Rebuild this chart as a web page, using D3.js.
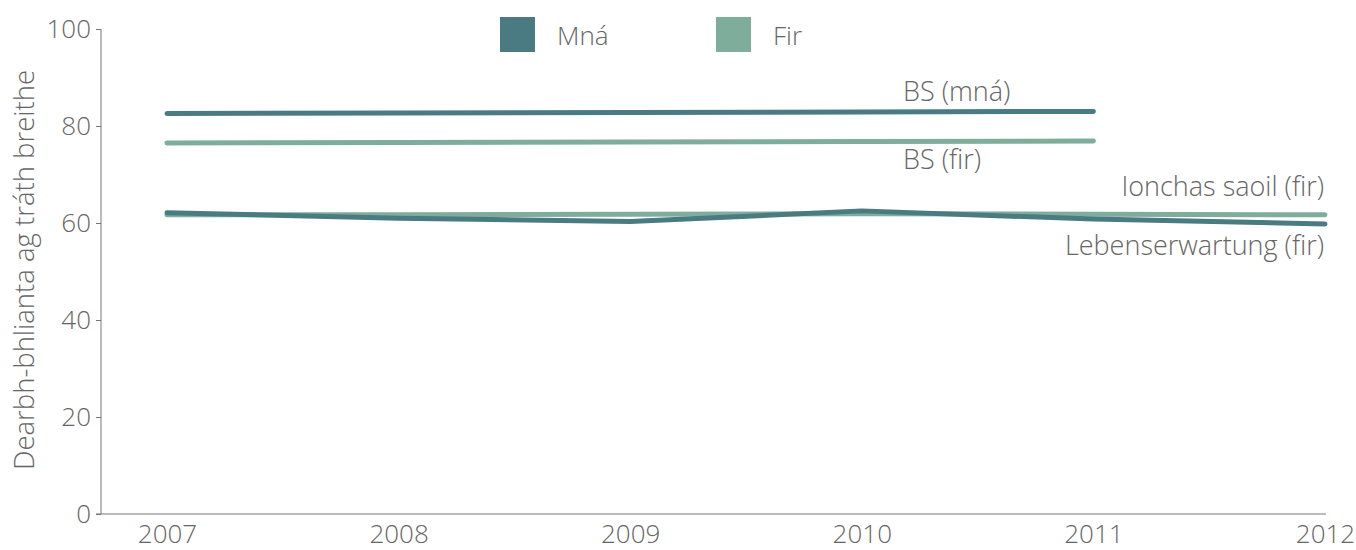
<!DOCTYPE html>
<html>
<head>
<meta charset="utf-8">
<script src="https://cdn.jsdelivr.net/npm/d3@7"></script>
<style>
  body { margin: 0; background: #fff; }
  svg text { font-family: "Open Sans", "Noto Sans", sans-serif; font-weight: 300; fill: #666; }
</style>
</head>
<body>
<div id="viz"></div>
<script>
// data
var years = [2007, 2008, 2009, 2010, 2011, 2012];
var bsWomen = [82.6, 82.7, 82.8, 82.9, 83.0];           // 2007-2011
var bsMen = [76.5, 76.6, 76.7, 76.8, 76.9];             // 2007-2011
var ionchasMen = [61.7, 61.7, 61.8, 61.9, 61.8, 61.7];  // 2007-2012
var lebenMen = [62.1, 61.0, 60.3, 62.5, 60.8, 59.8];    // 2007-2012
var yTicks = [0, 20, 40, 60, 80, 100];
var legendItems = ['Mná', 'Fir'];

var darkColor = '#4a7b83';
var lightColor = '#7fad9c';

var width = 1356, height = 550;

var svg = d3.select('#viz').append('svg')
  .attr('width', width)
  .attr('height', height);

// scales
var x = d3.scaleLinear().domain([2007, 2012]).range([167, 1325]);
var y = d3.scaleLinear().domain([0, 100]).range([514, 29]);

// y axis
var yAxis = svg.append('g')
  .attr('transform', 'translate(101,0)')
  .call(d3.axisLeft(y).tickValues(yTicks).tickSize(5).tickPadding(6));
yAxis.select('.domain').attr('stroke', '#777').attr('d', 'M0,' + y(100) + 'V' + y(0));
yAxis.selectAll('.tick line').attr('stroke', '#777');
yAxis.selectAll('.tick text').style('font-size', '26px').attr('fill', '#666').attr('x', -10).attr('dy', '0.34em');

// x axis (line only, no ticks)
var xAxis = svg.append('g')
  .attr('transform', 'translate(0,' + y(0) + ')')
  .call(d3.axisBottom(x).tickValues(years).tickFormat(d3.format('d')).tickSize(0));
xAxis.select('.domain').attr('stroke', '#777').attr('d', 'M96,0H1326');
xAxis.selectAll('.tick text').style('font-size', '26px').attr('fill', '#666').attr('y', 29).attr('dy', 0);

// y axis label
svg.append('text')
  .attr('transform', 'translate(34,270) rotate(-90)')
  .attr('text-anchor', 'middle')
  .style('font-size', '27.5px')
  .text('Dearbh-bhlianta ag tráth breithe');

// lines
var line = d3.line()
  .x(function(d, i) { return x(years[i]); })
  .y(function(d) { return y(d); });

var series = [
  { values: bsMen, color: lightColor },
  { values: ionchasMen, color: lightColor },
  { values: bsWomen, color: darkColor },
  { values: lebenMen, color: darkColor }
];

svg.selectAll('.series')
  .data(series)
  .enter().append('path')
  .attr('class', 'series')
  .attr('d', function(d) { return line(d.values); })
  .attr('fill', 'none')
  .attr('stroke', function(d) { return d.color; })
  .attr('stroke-width', 5)
  .attr('stroke-linecap', 'round')
  .attr('stroke-linejoin', 'round');

// line labels
var labels = [
  { text: 'BS (mná)', x: 903, y: 101, anchor: 'start' },
  { text: 'BS (fir)', x: 903, y: 169, anchor: 'start' },
  { text: 'Ionchas saoil (fir)', x: 1324, y: 196, anchor: 'end' },
  { text: 'Lebenserwartung (fir)', x: 1324, y: 255, anchor: 'end' }
];
svg.selectAll('.lineLabel')
  .data(labels)
  .enter().append('text')
  .attr('class', 'lineLabel')
  .attr('x', function(d) { return d.x; })
  .attr('y', function(d) { return d.y; })
  .attr('text-anchor', function(d) { return d.anchor; })
  .style('font-size', '27px')
  .text(function(d) { return d.text; });

// legend
var legend = svg.selectAll('.legend')
  .data(legendItems)
  .enter().append('g')
  .attr('class', 'legend')
  .attr('transform', function(d, i) { return 'translate(' + (500 + i * 216) + ',17)'; });

legend.append('rect')
  .attr('width', 35)
  .attr('height', 35)
  .attr('fill', function(d, i) { return i == 0 ? darkColor : lightColor; });

legend.append('text')
  .attr('x', 57)
  .attr('y', 28)
  .style('font-size', '26px')
  .text(function(d) { return d; });
</script>
</body>
</html>
